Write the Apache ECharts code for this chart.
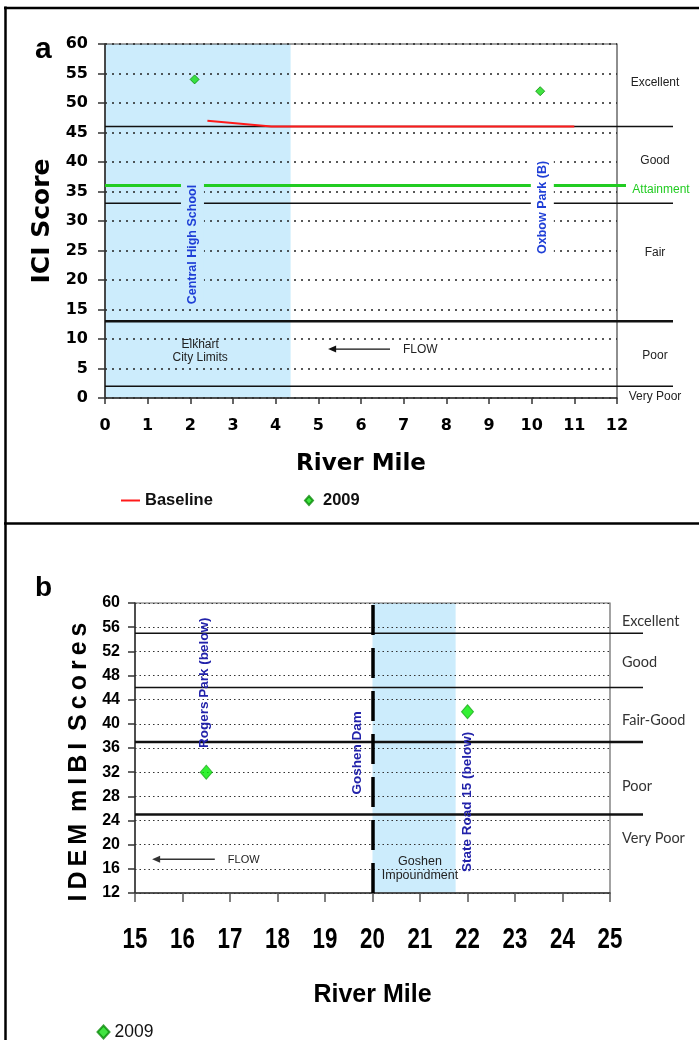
<!DOCTYPE html>
<html>
<head>
<meta charset="utf-8">
<script src="https://cdn.jsdelivr.net/npm/echarts@6/dist/echarts.min.js"></script>
<style>
  html, body { margin: 0; padding: 0; background: #fff; }
  #chart { width: 699px; height: 1040px; }
</style>
</head>
<body>
<div id="chart"></div>
<script>
// ---------- panel a : ICI ----------
const iciRange = [0, 60];
const iciStep = 5;
const milesA = [0, 12];
const iciBaseline = [[2.4, 47], [3.9, 46], [11.0, 46]];
const ici2009 = [[2.1, 54], [10.2, 52]];
const iciClassBreaks = [46, 33, 13, 2];
const iciAttainment = [36];
const iciClassNames = ['Excellent', 'Good', 'Fair', 'Poor', 'Very Poor'];
const iciClassLabelY = [53.5, 40.2, 24.7, 7.1, 0.3];
const iciSites = ['Central High School', 'Oxbow Park (B)'];
const iciSiteMile = [2.05, 10.25];
const iciSiteLabelY = [26, 32.3];
const elkhartZone = [0, 4.35];
const elkhartNote = ['Elkhart\nCity Limits'];
const elkhartNoteAt = [[2.23, 8.0]];
const flowA = [[6.68, 5.23, 8.3]];   // from mile, to mile, score

// ---------- panel b : IDEM mIBI ----------
const mibiRange = [12, 60];
const mibiStep = 4;
const milesB = [15, 25];
const milesBTicks = [15, 16, 17, 18, 19, 20, 21, 22, 23, 24, 25];
const mibi2009 = [[16.5, 32], [22.0, 42]];
const mibiClassBreaks = [55, 46, 37, 25];
const mibiClassNames = ['Excellent', 'Good', 'Fair-Good', 'Poor', 'Very Poor'];
const mibiClassLabelY = [56.9, 50.1, 40.5, 29.7, 21.1];
const mibiSites = ['Rogers Park (below)', 'Goshen Dam', 'State Road 15 (below)'];
const mibiSiteMile = [16.45, 19.67, 22.0];
const mibiSiteLabelY = [46.8, 35.2, 27.1];
const goshenDamMile = 20;
const impoundment = [20, 21.75];
const impoundNote = ['Goshen\nImpoundment'];
const impoundNoteAt = [[21.0, 16.1]];
const flowB = [[16.68, 15.36, 17.6]];

const FONT_V = "'DejaVu Sans', Verdana, sans-serif";
const FONT_A = "'Liberation Sans', Arial, sans-serif";
const FONT_C = "Lato, 'Open Sans', sans-serif";
const SHADE = '#ccecfc';

const chart = echarts.init(document.getElementById('chart'));

function shadeSeries(idx, range, yr) {
    return {
        type: 'custom', xAxisIndex: idx, yAxisIndex: idx, z: -1, silent: true,
        data: [range],
        renderItem(params, api) {
            const p0 = api.coord([api.value(0), yr[1]]);
            const p1 = api.coord([api.value(1), yr[0]]);
            return { type: 'rect', shape: { x: p0[0], y: p0[1], width: p1[0] - p0[0], height: p1[1] - p0[1] }, style: { fill: SHADE } };
        }
    };
}

// horizontal class lines, running past the right edge of the plot
function bandSeries(idx, values, xMin, widths, color, overhang, z) {
    return {
        type: 'custom', xAxisIndex: idx, yAxisIndex: idx, z, silent: true, clip: false,
        data: values.map(v => [xMin, v]),
        renderItem(params, api) {
            const cs = params.coordSys;
            const y = api.coord([api.value(0), api.value(1)])[1];
            return { type: 'line', shape: { x1: cs.x, y1: y, x2: cs.x + cs.width + overhang, y2: y },
                     style: { stroke: color, lineWidth: widths[params.dataIndex] } };
        }
    };
}

function classLabelSeries(idx, names, ys, xMin, offset, align, font, color) {
    return {
        type: 'custom', xAxisIndex: idx, yAxisIndex: idx, z: 6, silent: true, clip: false,
        data: ys.map(v => [xMin, v]),
        renderItem(params, api) {
            const cs = params.coordSys;
            const y = api.coord([api.value(0), api.value(1)])[1];
            return { type: 'text', x: cs.x + cs.width + offset, y,
                     style: { text: names[params.dataIndex], font, fill: color, align, verticalAlign: 'middle' } };
        }
    };
}

function siteSeries(idx, names, miles, ys, font, color, bgFor) {
    return {
        type: 'custom', xAxisIndex: idx, yAxisIndex: idx, z: 6, silent: true, clip: false,
        data: names.map((n, i) => [miles[i], ys[i]]),
        renderItem(params, api) {
            const p = api.coord([api.value(0), api.value(1)]);
            const bg = bgFor ? bgFor(api.value(0)) : null;
            const style = { text: names[params.dataIndex], font, fill: color, align: 'center', verticalAlign: 'middle' };
            if (bg) { style.backgroundColor = bg; style.padding = [5, 3]; }
            return { type: 'text', x: p[0], y: p[1], rotation: Math.PI / 2, style };
        }
    };
}

function noteSeries(idx, notes, at, font, color, lineHeight) {
    return {
        type: 'custom', xAxisIndex: idx, yAxisIndex: idx, z: 6, silent: true, clip: false,
        data: at,
        renderItem(params, api) {
            const p = api.coord([api.value(0), api.value(1)]);
            return { type: 'text', x: p[0], y: p[1],
                     style: { text: notes[params.dataIndex], font, fill: color, align: 'center', verticalAlign: 'middle', lineHeight } };
        }
    };
}

function flowSeries(idx, data, color, lw, font, textGap) {
    return {
        type: 'custom', xAxisIndex: idx, yAxisIndex: idx, z: 6, silent: true, clip: false,
        data,
        renderItem(params, api) {
            const a = api.coord([api.value(0), api.value(2)]);
            const b = api.coord([api.value(1), api.value(2)]);
            return {
                type: 'group',
                children: [
                    { type: 'line', shape: { x1: a[0], y1: a[1], x2: b[0] + 6, y2: b[1] }, style: { stroke: color, lineWidth: lw } },
                    { type: 'polygon', shape: { points: [[b[0], b[1]], [b[0] + 8, b[1] - 3.5], [b[0] + 8, b[1] + 3.5]] }, style: { fill: color } },
                    { type: 'text', x: a[0] + textGap, y: a[1] + 1, style: { text: 'FLOW', font, fill: '#222', align: 'left', verticalAlign: 'middle' } }
                ]
            };
        }
    };
}

// condensed bold mile labels under panel b (Arial Narrow look)
function narrowTickSeries(idx, ticks, yMin, dy, font, sx) {
    return {
        type: 'custom', xAxisIndex: idx, yAxisIndex: idx, z: 6, silent: true, clip: false,
        data: ticks.map(t => [t, yMin]),
        renderItem(params, api) {
            const p = api.coord([api.value(0), api.value(1)]);
            return { type: 'text', x: p[0], y: p[1] + dy, scaleX: sx,
                     style: { text: String(ticks[params.dataIndex]), font, fill: '#000', align: 'center', verticalAlign: 'middle' } };
        }
    };
}

const option = {
    animation: false,
    backgroundColor: '#fff',
    grid: [
        { left: 105, top: 44, width: 512, height: 354, show: true, borderColor: '#444', borderWidth: 1.2 },
        { left: 135, top: 603, width: 475, height: 290, show: true, borderColor: '#666', borderWidth: 1.2 }
    ],
    xAxis: [
        {
            gridIndex: 0, type: 'value', min: milesA[0], max: milesA[1], interval: 1,
            axisLine: { show: true, lineStyle: { color: '#333', width: 1.5 } },
            axisTick: { show: true, length: 6, lineStyle: { color: '#333', width: 1.5 } },
            axisLabel: { margin: 20, color: '#000', fontFamily: FONT_V, fontWeight: 'bold', fontSize: 16 },
            splitLine: { show: false },
            name: 'River Mile', nameLocation: 'middle', nameGap: 55,
            nameTextStyle: { fontFamily: FONT_V, fontWeight: 'bold', fontSize: 23, color: '#000' }
        },
        {
            gridIndex: 1, type: 'value', min: milesB[0], max: milesB[1], interval: 1,
            axisLine: { show: true, lineStyle: { color: '#333', width: 1.5 } },
            axisTick: { show: true, length: 9, lineStyle: { color: '#555', width: 1.5 } },
            axisLabel: { show: false },
            splitLine: { show: false },
            name: 'River Mile', nameLocation: 'middle', nameGap: 90,
            nameTextStyle: { fontFamily: FONT_A, fontWeight: 'bold', fontSize: 25, color: '#000' }
        }
    ],
    yAxis: [
        {
            gridIndex: 0, type: 'value', min: iciRange[0], max: iciRange[1], interval: iciStep,
            axisLine: { show: true, lineStyle: { color: '#333', width: 1.5 } },
            axisTick: { show: true, length: 7, lineStyle: { color: '#333', width: 1.5 } },
            axisLabel: { margin: 17, color: '#000', fontFamily: FONT_V, fontWeight: 'bold', fontSize: 16 },
            splitLine: { show: true, lineStyle: { type: [2, 5], color: '#222', width: 1.5 } },
            name: 'ICI Score', nameLocation: 'middle', nameGap: 50,
            nameTextStyle: { fontFamily: FONT_V, fontWeight: 'bold', fontSize: 25, color: '#000' }
        },
        {
            gridIndex: 1, type: 'value', min: mibiRange[0], max: mibiRange[1], interval: mibiStep,
            axisLine: { show: true, lineStyle: { color: '#333', width: 1.5 } },
            axisTick: { show: true, length: 7, lineStyle: { color: '#333', width: 1.5 } },
            axisLabel: { margin: 15, color: '#000', fontFamily: FONT_A, fontWeight: 'bold', fontSize: 16 },
            splitLine: { show: true, lineStyle: { type: [1.5, 3], color: '#333', width: 1.2 } },
            name: 'I\u2009D\u2009E\u2009M \u2009m\u2009I\u2009B\u2009I \u2009S\u2009c\u2009o\u2009r\u2009e\u2009s',
            nameLocation: 'middle', nameGap: 37,
            nameTextStyle: { fontFamily: FONT_A, fontWeight: 'bold', fontSize: 25, color: '#000', padding: [0, 28, 0, 0] }
        }
    ],
    legend: [
        { data: [{ name: 'Baseline', icon: 'rect' }], left: 121, top: 492, padding: 0, itemWidth: 19, itemHeight: 2, selectedMode: false,
          textStyle: { fontFamily: FONT_A, fontWeight: 'bold', fontSize: 16.5, color: '#111' } },
        { data: ['2009'], left: 304, top: 492, padding: 0, itemWidth: 8, itemHeight: 9, icon: 'diamond', selectedMode: false,
          textStyle: { fontFamily: FONT_A, fontWeight: 'bold', fontSize: 16.5, color: '#111', padding: [0, 0, 0, 5] } },
        { data: ['2009'], left: 96.5, top: 1023, padding: 0, itemWidth: 12, itemHeight: 13, icon: 'diamond', selectedMode: false,
          textStyle: { fontFamily: FONT_A, fontSize: 17.5, color: '#111' } }
    ],
    graphic: [
        { type: 'line', shape: { x1: 5.5, y1: 6.5, x2: 5.5, y2: 1040 }, style: { stroke: '#000', lineWidth: 2.5 } },
        { type: 'line', shape: { x1: 4, y1: 8, x2: 699, y2: 8 }, style: { stroke: '#000', lineWidth: 2.7 } },
        { type: 'line', shape: { x1: 4, y1: 523.5, x2: 699, y2: 523.5 }, style: { stroke: '#000', lineWidth: 2.3 } },
        { type: 'text', left: 35, top: 35, style: { text: 'a', font: `bold 30px ${FONT_A}`, fill: '#000' } },
        { type: 'text', left: 35, top: 574.5, style: { text: 'b', font: `bold 28px ${FONT_A}`, fill: '#000' } }
    ],
    series: [
        // panel a
        shadeSeries(0, elkhartZone, iciRange),
        bandSeries(0, iciClassBreaks, milesA[0], [1.5, 1.5, 2.5, 1.5], '#111', 56, 2),
        bandSeries(0, iciAttainment, milesA[0], [3], '#22cc22', 9, 3),
        {
            name: 'Baseline', type: 'line', xAxisIndex: 0, yAxisIndex: 0, z: 4,
            data: iciBaseline, symbol: 'none', silent: true,
            lineStyle: { color: '#ff1a1a', width: 2 }, itemStyle: { color: '#ff1a1a' }
        },
        {
            name: '2009', type: 'scatter', xAxisIndex: 0, yAxisIndex: 0, z: 5,
            data: ici2009, symbol: 'diamond', symbolSize: [9, 9], silent: true,
            itemStyle: { color: '#11dd11', borderColor: '#0a8a0a', borderWidth: 1 }
        },
        siteSeries(0, iciSites, iciSiteMile, iciSiteLabelY, `bold 12.5px ${FONT_A}`, '#1f3fd6',
            m => (m >= elkhartZone[0] && m <= elkhartZone[1]) ? SHADE : '#fff'),
        classLabelSeries(0, iciClassNames, iciClassLabelY, milesA[0], 38, 'center', `12px ${FONT_A}`, '#222'),
        classLabelSeries(0, ['Attainment'], [35.3], milesA[0], 44, 'center', `12px ${FONT_A}`, '#22cc22'),
        noteSeries(0, elkhartNote, elkhartNoteAt, `12px ${FONT_A}`, '#222', 13),
        flowSeries(0, flowA, '#111', 1.2, `12px ${FONT_A}`, 13),

        // panel b
        shadeSeries(1, impoundment, mibiRange),
        bandSeries(1, mibiClassBreaks, milesB[0], [1.5, 1.5, 2.5, 2.5], '#111', 33, 2),
        {
            name: '2009', type: 'scatter', xAxisIndex: 1, yAxisIndex: 1, z: 5,
            data: mibi2009, symbol: 'diamond', symbolSize: [12, 14], silent: true,
            itemStyle: { color: '#00ee00', borderColor: '#22aa22', borderWidth: 1 },
            markLine: {
                silent: true, symbol: 'none', label: { show: false },
                lineStyle: { type: [30, 13], width: 3.5, color: '#000' },
                data: [{ xAxis: goshenDamMile }]
            }
        },
        siteSeries(1, mibiSites, mibiSiteMile, mibiSiteLabelY, `bold 13.5px ${FONT_A}`, '#2222aa', null),
        classLabelSeries(1, mibiClassNames, mibiClassLabelY, milesB[0], 12, 'left', `14.5px ${FONT_C}`, '#333'),
        noteSeries(1, impoundNote, impoundNoteAt, `12.5px ${FONT_A}`, '#222', 14),
        flowSeries(1, flowB, '#333', 1.5, `11px ${FONT_A}`, 13),
        narrowTickSeries(1, milesBTicks, mibiRange[0], 47, `bold 29px ${FONT_A}`, 0.77)
    ]
};

chart.setOption(option);
window.addEventListener('resize', () => chart.resize());
</script>
</body>
</html>
